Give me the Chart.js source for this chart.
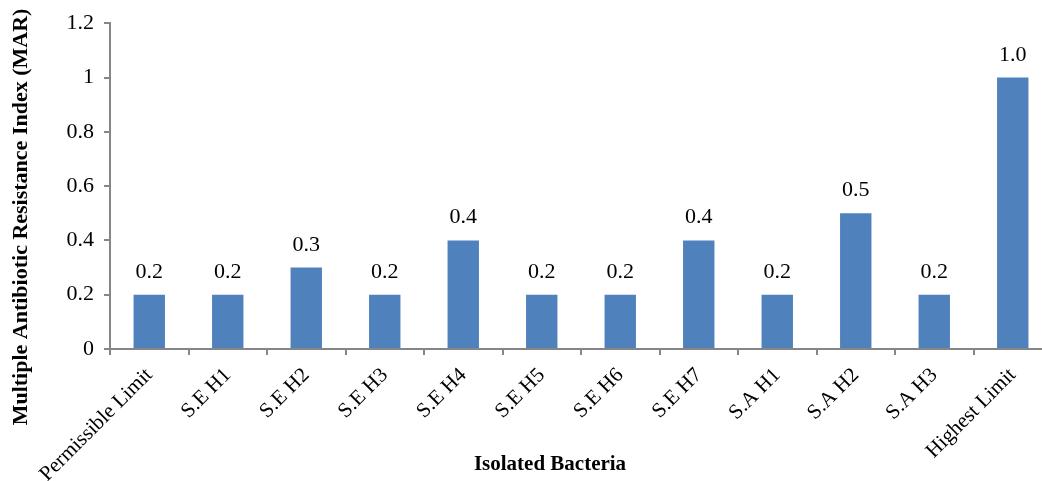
<!DOCTYPE html>
<html>
<head>
<meta charset="utf-8">
<script src="https://cdn.jsdelivr.net/npm/chart.js@4/dist/chart.umd.min.js"></script>
<style>
  html, body { margin: 0; padding: 0; background: #fff; overflow: hidden; }
  #wrap { width: 1052px; height: 481px; }
</style>
</head>
<body>
<div id="wrap"><canvas id="marChart"></canvas></div>
<script>
const categories = ['Permissible Limit', 'S.E H1', 'S.E H2', 'S.E H3', 'S.E H4', 'S.E H5',
  'S.E H6', 'S.E H7', 'S.A H1', 'S.A H2', 'S.A H3', 'Highest Limit'];
const marValues = [0.2, 0.2, 0.3, 0.2, 0.4, 0.2, 0.2, 0.4, 0.2, 0.5, 0.2, 1.0];
const yTitle = 'Multiple Antibiotic Resistance Index (MAR)';
const xTitle = 'Isolated Bacteria';

const serif = '"Liberation Serif", "Times New Roman", serif';
const axisGray = '#868686';

// value labels above bars + axis titles placed like the original
const labelsPlugin = {
  id: 'labels',
  afterDatasetsDraw(chart) {
    const ctx = chart.ctx;
    const meta = chart.getDatasetMeta(0);
    ctx.save();
    ctx.fillStyle = '#000';
    ctx.font = '22px ' + serif;
    ctx.textAlign = 'center';
    ctx.textBaseline = 'alphabetic';
    meta.data.forEach((bar, i) => {
      ctx.fillText(marValues[i].toFixed(1), bar.x, bar.y - 17);
    });

    ctx.font = 'bold 21px ' + serif;
    ctx.textBaseline = 'middle';
    ctx.fillText(xTitle, 550, 465);

    ctx.font = 'bold 22px ' + serif;
    ctx.translate(21, 217);
    ctx.rotate(-Math.PI / 2);
    ctx.fillText(yTitle, 0, 0);
    ctx.restore();
  }
};

const ctx = document.getElementById('marChart').getContext('2d');
new Chart(ctx, {
  type: 'bar',
  data: {
    labels: categories,
    datasets: [{
      label: 'MAR',
      data: marValues,
      backgroundColor: '#4F81BD',
      barPercentage: 0.4,
      categoryPercentage: 1.0
    }]
  },
  options: {
    responsive: true,
    maintainAspectRatio: false,
    animation: false,
    layout: { padding: { top: 21, left: 0, right: 0, bottom: 0 } },
    plugins: {
      legend: { display: false },
      tooltip: { enabled: false }
    },
    scales: {
      x: {
        grid: { drawOnChartArea: false, drawTicks: true, tickLength: 6, color: axisGray, lineWidth: 2, offset: true },
        border: { color: axisGray, width: 2 },
        ticks: {
          color: '#000',
          font: { family: serif, size: 21 },
          minRotation: 45,
          maxRotation: 45,
          padding: 8,
          autoSkip: false
        },
        afterFit(scale) { scale.height = 132; }
      },
      y: {
        min: 0,
        max: 1.2,
        grid: { drawOnChartArea: false, drawTicks: true, tickLength: 6, color: axisGray, lineWidth: 2 },
        border: { color: axisGray, width: 2 },
        ticks: {
          stepSize: 0.2,
          color: '#000',
          font: { family: serif, size: 22 },
          padding: 10,
          callback: v => String(+v.toFixed(1))
        },
        afterFit(scale) { scale.width = 110; }
      }
    }
  },
  plugins: [labelsPlugin]
});
</script>
</body>
</html>
